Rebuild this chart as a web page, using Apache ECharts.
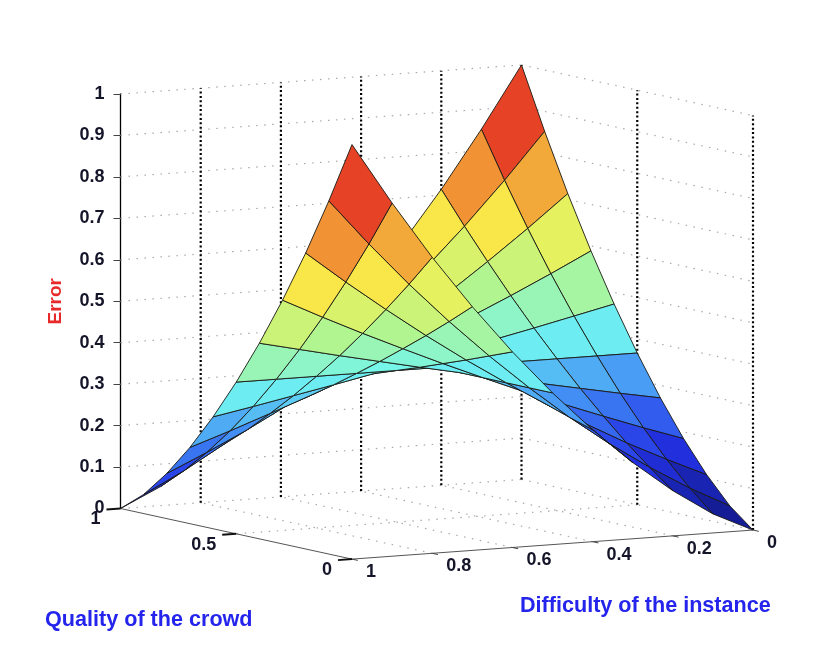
<!DOCTYPE html>
<html>
<head>
<meta charset="utf-8">
<title>Error surface</title>
<script src="https://cdn.jsdelivr.net/npm/echarts@6/dist/echarts.min.js"></script>
<style>
  html, body { margin: 0; padding: 0; background: #fff; }
  #error_surface { width: 836px; height: 662px; }
</style>
</head>
<body>
<div id="error_surface"></div>
<script>
var qualityValues = [0, 0.1, 0.2, 0.3, 0.4, 0.5, 0.6, 0.7, 0.8, 0.9, 1];
var difficultyValues = [0, 0.1, 0.2, 0.3, 0.4, 0.5, 0.6, 0.7, 0.8, 0.9, 1];

// errorValues[i][j] = error for qualityValues[i], difficultyValues[j]
var errorValues = [
    [0, 0.046, 0.109, 0.184, 0.270, 0.366, 0.472, 0.588, 0.714, 0.852, 1],
    [0.046, 0.096, 0.153, 0.217, 0.288, 0.366, 0.450, 0.540, 0.637, 0.741, 0.852],
    [0.109, 0.153, 0.200, 0.252, 0.307, 0.366, 0.428, 0.494, 0.564, 0.637, 0.714],
    [0.184, 0.217, 0.252, 0.288, 0.326, 0.366, 0.407, 0.450, 0.494, 0.540, 0.588],
    [0.270, 0.288, 0.307, 0.326, 0.346, 0.366, 0.386, 0.407, 0.428, 0.450, 0.472],
    [0.366, 0.366, 0.366, 0.366, 0.366, 0.366, 0.366, 0.366, 0.366, 0.366, 0.366],
    [0.472, 0.450, 0.428, 0.407, 0.386, 0.366, 0.346, 0.326, 0.307, 0.288, 0.270],
    [0.588, 0.540, 0.494, 0.450, 0.407, 0.366, 0.326, 0.288, 0.252, 0.217, 0.184],
    [0.714, 0.637, 0.564, 0.494, 0.428, 0.366, 0.307, 0.252, 0.200, 0.153, 0.109],
    [0.852, 0.741, 0.637, 0.540, 0.450, 0.366, 0.288, 0.217, 0.153, 0.096, 0.046],
    [1, 0.852, 0.714, 0.588, 0.472, 0.366, 0.270, 0.184, 0.109, 0.046, 0]
];

var errorTicks = [0, 0.1, 0.2, 0.3, 0.4, 0.5, 0.6, 0.7, 0.8, 0.9, 1];
var qualityTicks = [0, 0.5, 1];
var difficultyTicks = [0, 0.2, 0.4, 0.6, 0.8, 1];

var labelFont = 'bold 18px "Liberation Sans", Arial, sans-serif';
var titleFont = 'bold 21.6px "Liberation Sans", Arial, sans-serif';

// jet colormap, a bit washed out like in the picture (stops every 1/8)
var surfaceColors = ['#141c96', '#2332e6', '#418cf5', '#70f5f2', '#b4f58c',
                     '#faf04b', '#f08c32', '#e43223', '#961914'];

var segmentStyles = [
    { stroke: '#a8a8a8', lineWidth: 1.2, lineDash: [1.5, 6.5] },   // light grid
    { stroke: '#000000', lineWidth: 2.2, lineDash: [2, 2.4] },     // vertical grid
    { stroke: '#555555', lineWidth: 1 },                           // floor axes
    { stroke: '#111111', lineWidth: 2 },                           // quality ticks
    { stroke: '#444444', lineWidth: 1 }                            // difficulty ticks
];

// orthographic view of the box (like MATLAB view): x runs 0..1 from the left
// corner to the right corner, y is in Error units with 0 at the left corner
function project(q, d, z) {
    return [1 - 0.366 * q - 0.634 * d, z + 0.1221 * q - 0.0701 * d - 0.052];
}

// surface cells, sorted from back to front
var cells = [];
for (var i = 0; i < qualityValues.length - 1; i++) {
    for (var j = 0; j < difficultyValues.length - 1; j++) {
        var qc = (qualityValues[i] + qualityValues[i + 1]) / 2;
        var dc = (difficultyValues[j] + difficultyValues[j + 1]) / 2;
        cells.push([i, j, errorValues[i][j], project(qc, dc, 0)[1]]);
    }
}
cells.sort(function(a, b) { return b[3] - a[3]; });

// box grid lines: [style, q1, d1, z1, q2, d2, z2]
var segments = [];
errorTicks.forEach(function(z) {
    segments.push([0, 1, 1, z, 1, 0, z]);
    segments.push([0, 1, 0, z, 0, 0, z]);
});
difficultyTicks.forEach(function(d) {
    if (d > 0 && d < 1) segments.push([0, 0, d, 0, 1, d, 0]);
});
qualityTicks.forEach(function(q) {
    if (q > 0 && q < 1) segments.push([0, q, 0, 0, q, 1, 0]);
});
difficultyTicks.forEach(function(d) {
    if (d < 1) segments.push([1, 1, d, 0, 1, d, 1]);
});
qualityTicks.forEach(function(q) {
    if (q < 1) segments.push([1, q, 0, 0, q, 0, 1]);
});
segments.push([2, 1, 1, 0, 0, 1, 0]);
segments.push([2, 0, 1, 0, 0, 0, 0]);
qualityTicks.forEach(function(q) {
    segments.push([3, q, 1, 0, q, 1.035, 0]);
});
difficultyTicks.forEach(function(d) {
    segments.push([4, 0, d, 0, -0.025, d, 0]);
});

// floor tick labels: [axis (0 quality, 1 difficulty), value]
var floorLabels = [];
qualityTicks.forEach(function(q) { floorLabels.push([0, q]); });
difficultyTicks.forEach(function(d) { floorLabels.push([1, d]); });

function renderSegment(params, api) {
    var a = api.coord(project(api.value(1), api.value(2), api.value(3)));
    var b = api.coord(project(api.value(4), api.value(5), api.value(6)));
    return {
        type: 'line',
        shape: { x1: a[0], y1: a[1], x2: b[0], y2: b[1] },
        style: segmentStyles[api.value(0)]
    };
}

function renderCell(params, api) {
    var ci = api.value(0), cj = api.value(1);
    var corners = [[ci, cj], [ci + 1, cj], [ci + 1, cj + 1], [ci, cj + 1]];
    var points = corners.map(function(c) {
        return api.coord(project(qualityValues[c[0]], difficultyValues[c[1]], errorValues[c[0]][c[1]]));
    });
    return {
        type: 'polygon',
        shape: { points: points },
        style: { fill: api.visual('color'), stroke: 'rgba(25,25,20,0.9)', lineWidth: 1, lineJoin: 'round' }
    };
}

function renderFloorLabel(params, api) {
    var axis = api.value(0), v = api.value(1);
    var p = axis === 0 ? api.coord(project(v, 1, 0)) : api.coord(project(0, v, 0));
    return {
        type: 'text',
        x: p[0] + (axis === 0 ? -20 : 14),
        y: p[1] + (axis === 0 ? 11 : 13),
        style: {
            text: String(v),
            font: labelFont,
            fill: '#15152a',
            align: axis === 0 ? 'right' : 'left',
            verticalAlign: 'middle'
        }
    };
}

var dom = document.getElementById('error_surface');
var myChart = echarts.init(dom);
var option;

option = {
    animation: false,
    backgroundColor: '#ffffff',
    grid: { left: 120.5, right: 83, top: 94, bottom: 153.5 },
    xAxis: { type: 'value', min: 0, max: 1, show: false },
    yAxis: {
        type: 'value',
        min: 0,
        max: 1,
        interval: 0.1,
        name: 'Error',
        nameLocation: 'middle',
        nameGap: 55,
        nameRotate: 90,
        nameTextStyle: { color: '#e8292a', fontWeight: 'bold', fontSize: 19, fontFamily: 'Liberation Sans' },
        axisLine: { show: true, lineStyle: { color: '#000', width: 1.3 } },
        axisTick: { show: true, inside: false, length: 7, lineStyle: { color: '#444' } },
        axisLabel: { margin: 16, color: '#15152a', fontWeight: 'bold', fontSize: 18, fontFamily: 'Liberation Sans' },
        splitLine: { show: false }
    },
    visualMap: {
        show: false,
        type: 'continuous',
        min: 0,
        max: 1,
        dimension: 2,
        seriesIndex: 1,
        inRange: { color: surfaceColors }
    },
    graphic: [
        { type: 'text', left: 45, top: 609, style: { text: 'Quality of the crowd', font: titleFont, fill: '#2424ec' } },
        { type: 'text', left: 520, top: 595, style: { text: 'Difficulty of the instance', font: titleFont, fill: '#2424ec' } }
    ],
    series: [
        { type: 'custom', name: 'box', silent: true, z: 1, renderItem: renderSegment, data: segments },
        { type: 'custom', name: 'surface', silent: true, z: 2, renderItem: renderCell, data: cells },
        { type: 'custom', name: 'floor labels', silent: true, z: 3, renderItem: renderFloorLabel, data: floorLabels }
    ]
};

if (option && typeof option === 'object') {
    myChart.setOption(option);
}
</script>
</body>
</html>
